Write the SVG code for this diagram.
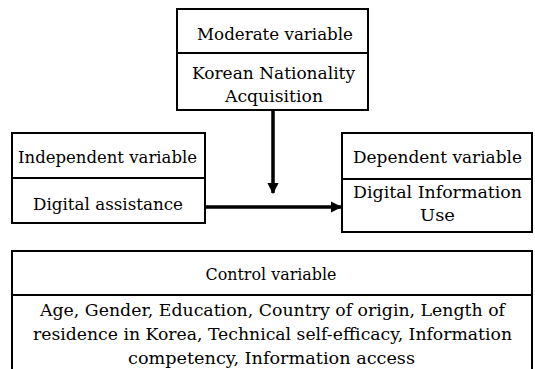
<svg xmlns="http://www.w3.org/2000/svg" width="535" height="369" viewBox="0 0 535 369">
<style>
.box{fill:#fff;stroke:#000;stroke-width:2}
.div{stroke:#000;stroke-width:2}
.t{font-family:'DejaVu Serif',serif;font-size:17.5px;fill:#000;text-anchor:middle}
.conn{stroke:#000;stroke-width:3.5;fill:none}
</style>
<defs>
<marker id="ah" viewBox="0 0 10 10" refX="9" refY="5" markerWidth="3.2" markerHeight="3.2" orient="auto" markerUnits="strokeWidth">
<path d="M0,0 L10,5 L0,10 Z" fill="#000"/>
</marker>
</defs>
<rect width="535" height="369" fill="#fff"/>
<g id="moderate">
<rect class="box" x="177" y="9" width="191" height="101"/>
<line class="div" x1="177" y1="53" x2="368" y2="53"/>
<text class="t" x="275" y="40" textLength="156" lengthAdjust="spacingAndGlyphs">Moderate variable</text>
<text class="t" x="273.5" y="79" textLength="163" lengthAdjust="spacingAndGlyphs">Korean Nationality</text>
<text class="t" x="274" y="102" textLength="98" lengthAdjust="spacingAndGlyphs">Acquisition</text>
</g>
<g id="independent">
<rect class="box" x="12" y="133" width="193" height="90"/>
<line class="div" x1="12" y1="178" x2="205" y2="178"/>
<text class="t" x="107.5" y="163" textLength="179" lengthAdjust="spacingAndGlyphs">Independent variable</text>
<text class="t" x="108" y="210" textLength="150" lengthAdjust="spacingAndGlyphs">Digital assistance</text>
</g>
<g id="dependent">
<rect class="box" x="342" y="133" width="190" height="99"/>
<line class="div" x1="342" y1="179" x2="532" y2="179"/>
<text class="t" x="437.5" y="163" textLength="169" lengthAdjust="spacingAndGlyphs">Dependent variable</text>
<text class="t" x="437.5" y="198" textLength="169" lengthAdjust="spacingAndGlyphs">Digital Information</text>
<text class="t" x="437.5" y="221" textLength="35" lengthAdjust="spacingAndGlyphs">Use</text>
</g>
<g id="control">
<rect class="box" x="12" y="251" width="520" height="130"/>
<line class="div" x1="12" y1="295" x2="532" y2="295"/>
<text class="t" x="271" y="280" textLength="131" lengthAdjust="spacingAndGlyphs">Control variable</text>
<text class="t" x="272.5" y="316" textLength="465" lengthAdjust="spacingAndGlyphs">Age, Gender, Education, Country of origin, Length of</text>
<text class="t" x="272.5" y="340" textLength="479" lengthAdjust="spacingAndGlyphs">residence in Korea, Technical self-efficacy, Information</text>
<text class="t" x="271.5" y="364" textLength="287" lengthAdjust="spacingAndGlyphs">competency, Information access</text>
</g>
<g id="connectors">
<line class="conn" x1="273" y1="110" x2="273" y2="193" marker-end="url(#ah)"/>
<line class="conn" x1="205" y1="207" x2="341" y2="207" marker-end="url(#ah)"/>
</g>
</svg>
